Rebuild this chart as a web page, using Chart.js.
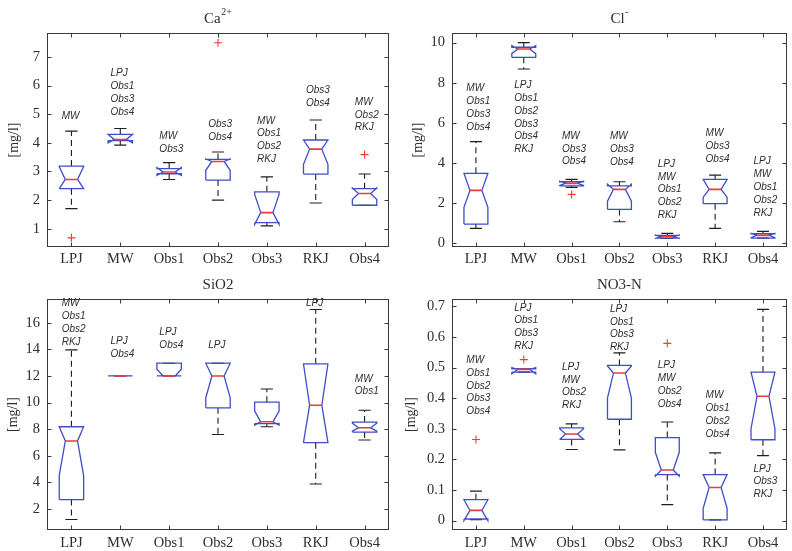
<!DOCTYPE html>
<html>
<head>
<meta charset="utf-8">
<script src="https://cdn.jsdelivr.net/npm/chart.js@4/dist/chart.umd.min.js"></script>
<style>
  html, body { margin: 0; padding: 0; background: #fff; width: 792px; height: 551px; overflow: hidden; }
  canvas { position: absolute; }
</style>
</head>
<body>
<canvas id="ca" width="396" height="272" style="left:0px;top:0px"></canvas>
<canvas id="cl" width="396" height="272" style="left:396px;top:0px"></canvas>
<canvas id="si" width="396" height="279" style="left:0px;top:272px"></canvas>
<canvas id="no" width="396" height="279" style="left:396px;top:272px"></canvas>
<script>
const categories = ['LPJ', 'MW', 'Obs1', 'Obs2', 'Obs3', 'RKJ', 'Obs4'];

// Ca2+ [mg/l]
const caQ1      = [2.40, 4.08, 2.92, 2.70, 1.21, 2.91, 1.82];
const caMedian  = [2.72, 4.12, 2.98, 3.35, 1.56, 3.78, 2.23];
const caQ3      = [3.19, 4.30, 3.10, 3.42, 2.29, 4.10, 2.40];
const caWhLo    = [1.70, 3.92, 2.72, 2.00, 1.10, 1.90, 1.82];
const caWhHi    = [4.41, 4.50, 3.31, 3.68, 2.81, 4.80, 2.91];
const caNotchLo = [2.40, 4.00, 2.86, 3.04, 1.15, 3.25, 2.02];
const caNotchHi = [3.17, 4.30, 3.14, 3.44, 2.20, 4.10, 2.42];
const caOutliers = [[0.68], [], [], [7.50], [], [], [3.59]];
const caTicks = [1, 2, 3, 4, 5, 6, 7];
const caNotes = [['MW'], ['LPJ', 'Obs1', 'Obs3', 'Obs4'], ['MW', 'Obs3'], ['Obs3', 'Obs4'],
                 ['MW', 'Obs1', 'Obs2', 'RKJ'], ['Obs3', 'Obs4'], ['MW', 'Obs2', 'RKJ']];
const caNoteAt = [4.93, 6.43, 4.24, 4.64, 4.77, 5.84, 5.43];

// Cl- [mg/l]
const clQ1      = [0.96, 9.27, 2.86, 1.69, 0.26, 1.98, 0.26];
const clMedian  = [2.64, 9.68, 2.99, 2.69, 0.33, 2.69, 0.40];
const clQ3      = [3.49, 9.77, 3.07, 2.86, 0.40, 3.19, 0.48];
const clWhLo    = [0.75, 8.69, 2.79, 1.08, 0.24, 0.75, 0.26];
const clWhHi    = [5.07, 10.0, 3.19, 3.07, 0.50, 3.40, 0.60];
const clNotchLo = [1.80, 9.45, 2.88, 2.10, 0.25, 2.30, 0.28];
const clNotchHi = [3.49, 9.85, 3.10, 2.95, 0.41, 3.19, 0.50];
const clOutliers = [[], [], [2.44], [], [], [], []];
const clTicks = [0, 2, 4, 6, 8, 10];
const clNotes = [['MW', 'Obs1', 'Obs3', 'Obs4'], ['LPJ', 'Obs1', 'Obs2', 'Obs3', 'Obs4', 'RKJ'],
                 ['MW', 'Obs3', 'Obs4'], ['MW', 'Obs3', 'Obs4'], ['LPJ', 'MW', 'Obs1', 'Obs2', 'RKJ'],
                 ['MW', 'Obs3', 'Obs4'], ['LPJ', 'MW', 'Obs1', 'Obs2', 'RKJ']];
const clNoteAt = [7.72, 7.87, 5.35, 5.32, 3.95, 5.48, 4.07];

// SiO2 [mg/l]
const siQ1      = [2.70, 12.0, 12.0, 9.60, 8.42, 6.98, 7.78];
const siMedian  = [7.11, 12.0, 12.0, 12.0, 8.55, 9.80, 8.10];
const siQ3      = [8.18, 12.0, 12.96, 12.96, 10.03, 12.91, 8.53];
const siWhLo    = [1.20, 12.0, 12.0, 7.60, 8.18, 3.87, 7.18];
const siWhHi    = [13.96, 12.0, 12.96, 12.96, 11.02, 17.0, 9.42];
const siNotchLo = [4.50, 12.0, 12.0, 10.35, 8.30, 7.00, 7.85];
const siNotchHi = [8.18, 12.0, 12.50, 12.96, 9.35, 12.90, 8.45];
const siOutliers = [[], [], [], [], [], [], []];
const siTicks = [2, 4, 6, 8, 10, 12, 14, 16];
const siNotes = [['MW', 'Obs1', 'Obs2', 'RKJ'], ['LPJ', 'Obs4'], ['LPJ', 'Obs4'], ['LPJ'],
                 [], ['LPJ'], ['MW', 'Obs1']];
const siNoteAt = [17.44, 14.58, 15.28, 14.28, 0, 17.44, 11.79];

// NO3-N [mg/l]
const noQ1      = [0.005, 0.485, 0.265, 0.331, 0.150, 0.002, 0.264];
const noMedian  = [0.033, 0.494, 0.283, 0.482, 0.165, 0.108, 0.406];
const noQ3      = [0.068, 0.496, 0.303, 0.507, 0.271, 0.150, 0.485];
const noWhLo    = [0.003, 0.485, 0.232, 0.231, 0.052, 0.002, 0.212];
const noWhHi    = [0.096, 0.496, 0.316, 0.548, 0.322, 0.221, 0.690];
const noNotchLo = [0.000, 0.480, 0.265, 0.400, 0.145, 0.040, 0.300];
const noNotchHi = [0.068, 0.500, 0.300, 0.505, 0.223, 0.150, 0.485];
const noOutliers = [[0.265], [0.526], [], [], [0.579], [], []];
const noTicks = [0, 0.1, 0.2, 0.3, 0.4, 0.5, 0.6, 0.7];
const noNotes = [['MW', 'Obs1', 'Obs2', 'Obs3', 'Obs4'], ['LPJ', 'Obs1', 'Obs3', 'RKJ'],
                 ['LPJ', 'MW', 'Obs2', 'RKJ'], ['LPJ', 'Obs1', 'Obs3', 'RKJ'],
                 ['LPJ', 'MW', 'Obs2', 'Obs4'], ['MW', 'Obs1', 'Obs2', 'Obs4'], ['LPJ', 'Obs3', 'RKJ']];
const noNoteAt = [0.524, 0.695, 0.502, 0.691, 0.507, 0.408, 0.169];

// ---- drawing helpers ----
const BOX_HALF = 0.25;    // half box width in category units
const NOTCH_HALF = 0.125; // half width at the median notch
const CAP_HALF = 0.125;   // half width of whisker caps

const BOX_COLOR = 'rgb(62,78,200)';
const MED_COLOR = 'rgb(240,58,58)';
const WHISK_COLOR = '#1e1e1e';
const TEXT_COLOR = '#2e2e2e';
const FRAME_COLOR = '#3a3a3a';
const SERIF = '"Liberation Serif", "Times New Roman", serif';
const SANS = '"Liberation Sans", Arial, sans-serif';

function buildDatasets(s) {
  const outline = [], median = [], whisk = [], caps = [], outl = [];
  const gap = (x) => ({ x: x, y: null });
  categories.forEach((c, i) => {
    const x = i + 1;
    outline.push(
      { x: x - BOX_HALF, y: s.q1[i] }, { x: x + BOX_HALF, y: s.q1[i] },
      { x: x + BOX_HALF, y: s.nlo[i] }, { x: x + NOTCH_HALF, y: s.med[i] },
      { x: x + BOX_HALF, y: s.nhi[i] }, { x: x + BOX_HALF, y: s.q3[i] },
      { x: x - BOX_HALF, y: s.q3[i] }, { x: x - BOX_HALF, y: s.nhi[i] },
      { x: x - NOTCH_HALF, y: s.med[i] }, { x: x - BOX_HALF, y: s.nlo[i] },
      { x: x - BOX_HALF, y: s.q1[i] }, gap(x));
    median.push({ x: x - NOTCH_HALF, y: s.med[i] }, { x: x + NOTCH_HALF, y: s.med[i] }, gap(x));
    whisk.push({ x: x, y: s.q3[i] }, { x: x, y: s.hi[i] }, gap(x),
               { x: x, y: s.q1[i] }, { x: x, y: s.lo[i] }, gap(x));
    caps.push({ x: x - CAP_HALF, y: s.hi[i] }, { x: x + CAP_HALF, y: s.hi[i] }, gap(x),
              { x: x - CAP_HALF, y: s.lo[i] }, { x: x + CAP_HALF, y: s.lo[i] }, gap(x));
    s.out[i].forEach(v => outl.push({ x: x, y: v }));
  });
  const lineBase = { type: 'line', pointRadius: 0, fill: false, tension: 0, spanGaps: false };
  return [
    Object.assign({}, lineBase, { label: 'median', data: median, borderColor: MED_COLOR, borderWidth: 1.6, order: 0 }),
    { type: 'line', label: 'outliers', data: outl, showLine: false, pointStyle: 'cross', pointRadius: 4,
      pointBorderColor: MED_COLOR, pointBackgroundColor: MED_COLOR, pointBorderWidth: 1.1, order: 1 },
    Object.assign({}, lineBase, { label: 'box', data: outline, borderColor: BOX_COLOR, borderWidth: 1.3, order: 2 }),
    Object.assign({}, lineBase, { label: 'caps', data: caps, borderColor: WHISK_COLOR, borderWidth: 1.1, order: 3 }),
    Object.assign({}, lineBase, { label: 'whiskers', data: whisk, borderColor: WHISK_COLOR, borderWidth: 1.1,
      borderDash: [6, 4], order: 4 })
  ];
}

// frame, inward ticks, group notes and the panel title
const panelDecor = {
  id: 'panelDecor',
  afterDatasetsDraw(chart, args, opts) {
    const { ctx, chartArea: a, scales: { x, y } } = chart;
    ctx.save();
    ctx.strokeStyle = FRAME_COLOR;
    ctx.lineWidth = 1;
    const L = Math.round(a.left) + 0.5, R = Math.round(a.right) - 0.5;
    const T = Math.round(a.top) + 0.5, B = Math.round(a.bottom) - 0.5;
    ctx.strokeRect(L, T, R - L, B - T);
    ctx.beginPath();
    y.ticks.forEach(t => {
      const py = Math.round(y.getPixelForValue(t.value)) + 0.5;
      ctx.moveTo(L, py); ctx.lineTo(L + 4, py);
      ctx.moveTo(R, py); ctx.lineTo(R - 4, py);
    });
    x.ticks.forEach(t => {
      const px = Math.round(x.getPixelForValue(t.value)) + 0.5;
      ctx.moveTo(px, B); ctx.lineTo(px, B - 4);
      ctx.moveTo(px, T); ctx.lineTo(px, T + 4);
    });
    ctx.stroke();

    ctx.font = 'italic 10px ' + SANS;
    ctx.fillStyle = TEXT_COLOR;
    ctx.textAlign = 'left';
    ctx.textBaseline = 'middle';
    opts.notes.forEach((lines, i) => {
      const px = x.getPixelForValue(i + 1 - 0.2);
      const py0 = y.getPixelForValue(opts.noteAt[i]);
      lines.forEach((s, k) => ctx.fillText(s, px, py0 + k * 12.8));
    });

    const cx = (a.left + a.right) / 2, by = a.top - 10;
    ctx.textBaseline = 'alphabetic';
    ctx.font = '15px ' + SERIF;
    const w1 = ctx.measureText(opts.title).width;
    let w2 = 0;
    if (opts.sup) { ctx.font = '10px ' + SERIF; w2 = ctx.measureText(opts.sup).width + 0.5; }
    const x0 = cx - (w1 + w2) / 2;
    ctx.font = '15px ' + SERIF;
    ctx.fillText(opts.title, x0, by);
    if (opts.sup) { ctx.font = '10px ' + SERIF; ctx.fillText(opts.sup, x0 + w1 + 0.5, by - 8); }
    ctx.restore();
  }
};

function makePanel(id, p) {
  const canvas = document.getElementById(id);
  const W = canvas.width, H = canvas.height;
  new Chart(canvas, {
    type: 'line',
    data: { datasets: buildDatasets(p.stats) },
    plugins: [panelDecor],
    options: {
      responsive: false,
      animation: false,
      events: [],
      layout: { padding: { left: 0, top: p.area.top, right: W - p.area.right, bottom: 0 } },
      plugins: {
        legend: { display: false },
        tooltip: { enabled: false },
        panelDecor: { title: p.title, sup: p.sup, notes: p.notes, noteAt: p.noteAt }
      },
      scales: {
        x: {
          type: 'linear', min: 0.5, max: 7.5,
          afterBuildTicks: s => { s.ticks = categories.map((c, i) => ({ value: i + 1 })); },
          afterFit: s => { s.height = H - p.area.bottom; },
          ticks: { callback: (v) => categories[Math.round(v) - 1], autoSkip: false, maxRotation: 0,
                   padding: p.xPad, color: TEXT_COLOR, font: { family: SERIF, size: 14.5 } },
          grid: { display: false, drawTicks: false },
          border: { display: false }
        },
        y: {
          type: 'linear', min: p.yMin, max: p.yMax,
          afterBuildTicks: s => { s.ticks = p.ticks.map(v => ({ value: v })); },
          afterFit: s => { s.width = p.area.left; },
          ticks: { callback: (v) => String(v), padding: 7, color: TEXT_COLOR,
                   font: { family: SERIF, size: 14.5 } },
          grid: { display: false, drawTicks: false },
          border: { display: false },
          title: { display: true, text: '[mg/l]', color: TEXT_COLOR, font: { family: SERIF, size: 14 },
                   padding: { top: p.yTitlePad, bottom: 0 } }
        }
      }
    }
  });
}

makePanel('ca', {
  title: 'Ca', sup: '2+', notes: caNotes, noteAt: caNoteAt, ticks: caTicks,
  yMin: 0.36, yMax: 7.84, area: { left: 47, right: 389, top: 33, bottom: 247 }, xPad: 3, yTitlePad: 6,
  stats: { q1: caQ1, med: caMedian, q3: caQ3, lo: caWhLo, hi: caWhHi, nlo: caNotchLo, nhi: caNotchHi, out: caOutliers }
});
makePanel('cl', {
  title: 'Cl', sup: '-', notes: clNotes, noteAt: clNoteAt, ticks: clTicks,
  yMin: -0.18, yMax: 10.48, area: { left: 56, right: 395, top: 33, bottom: 247 }, xPad: 3, yTitlePad: 14,
  stats: { q1: clQ1, med: clMedian, q3: clQ3, lo: clWhLo, hi: clWhHi, nlo: clNotchLo, nhi: clNotchHi, out: clOutliers }
});
makePanel('si', {
  title: 'SiO2', sup: '', notes: siNotes, noteAt: siNoteAt, ticks: siTicks,
  yMin: 0.41, yMax: 17.79, area: { left: 47, right: 389, top: 27, bottom: 258 }, xPad: 4, yTitlePad: 5.3,
  stats: { q1: siQ1, med: siMedian, q3: siQ3, lo: siWhLo, hi: siWhHi, nlo: siNotchLo, nhi: siNotchHi, out: siOutliers }
});
makePanel('no', {
  title: 'NO3-N', sup: '', notes: noNotes, noteAt: noNoteAt, ticks: noTicks,
  yMin: -0.031, yMax: 0.724, area: { left: 56, right: 395, top: 27, bottom: 258 }, xPad: 4, yTitlePad: 7,
  stats: { q1: noQ1, med: noMedian, q3: noQ3, lo: noWhLo, hi: noWhHi, nlo: noNotchLo, nhi: noNotchHi, out: noOutliers }
});
</script>
</body>
</html>
